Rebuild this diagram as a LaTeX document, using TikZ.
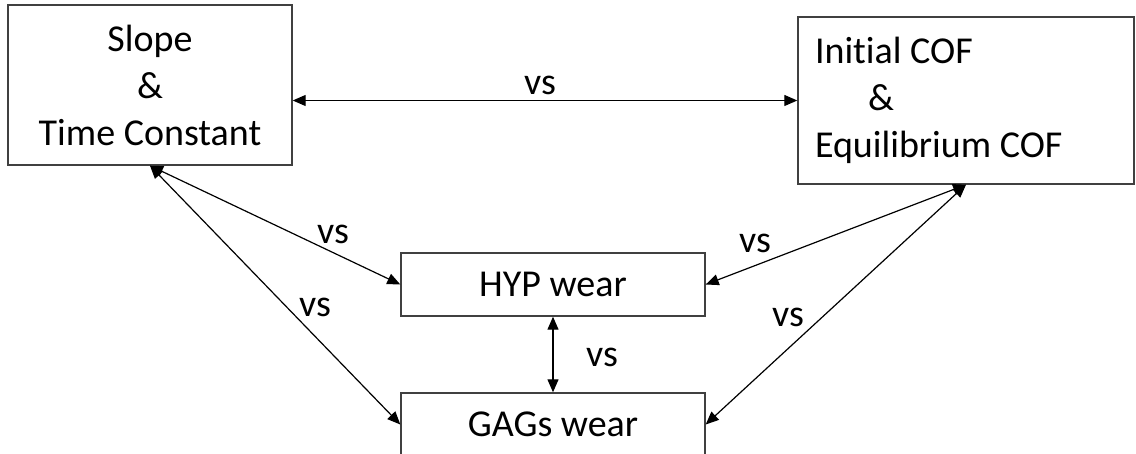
\documentclass[tikz,border=0pt]{standalone}
\usepackage{fontspec}
\setmainfont{Carlito}[Ligatures=NoCommon]
\usepackage{tikz}
\usetikzlibrary{arrows.meta,positioning}
\definecolor{Frame}{HTML}{404040}

\begin{document}
\begin{tikzpicture}[x=1pt,y=-1pt,
    font=\fontsize{38pt}{47pt}\selectfont,
    box/.style={draw=Frame,line width=1.4pt,rectangle,inner sep=0pt},
    link/.style={{Triangle[length=13pt,width=11pt]}-{Triangle[length=13pt,width=11pt]},line width=1.2pt},
    vslabel/.style={inner sep=0pt}]
  \useasboundingbox (0,0) rectangle (1136,454);
  \node[box,minimum width=284pt,minimum height=160pt,align=center] (slope) at (150,85) {Slope\\\&\\Time Constant};
  \node[box,minimum width=336pt,minimum height=167pt,text width=302pt,align=flush left] (cof) at (966,100.5) {Initial COF\\\hspace*{53pt}\&\\Equilibrium COF};
  \node[box,minimum width=304pt,minimum height=63pt] (hyp) at (553,284.5) {HYP wear};
  \node[box,minimum width=304pt,minimum height=63pt] (gags) at (553,424.5) {GAGs wear};
  % connectors
  \draw[link] (slope.east |- cof.west) -- (cof.west);
  \draw[link] (slope.south) -- (hyp.west);
  \draw[link] (slope.south) -- (gags.west);
  \draw[link] (cof.south) -- (hyp.east);
  \draw[link] (cof.south) -- (gags.east);
  \draw[link] (hyp.south) -- (gags.north);
  % labels
  \node[vslabel] (vstop) at (540,85) {vs};
  \node[vslabel] (vsleftA) at (333,234) {vs};
  \node[vslabel] (vsleftB) at (315,307) {vs};
  \node[vslabel] (vsrightA) at (755,243) {vs};
  \node[vslabel] (vsrightB) at (788,317) {vs};
  \node[vslabel] (vsmid) at (602,357) {vs};
\end{tikzpicture}
\end{document}
